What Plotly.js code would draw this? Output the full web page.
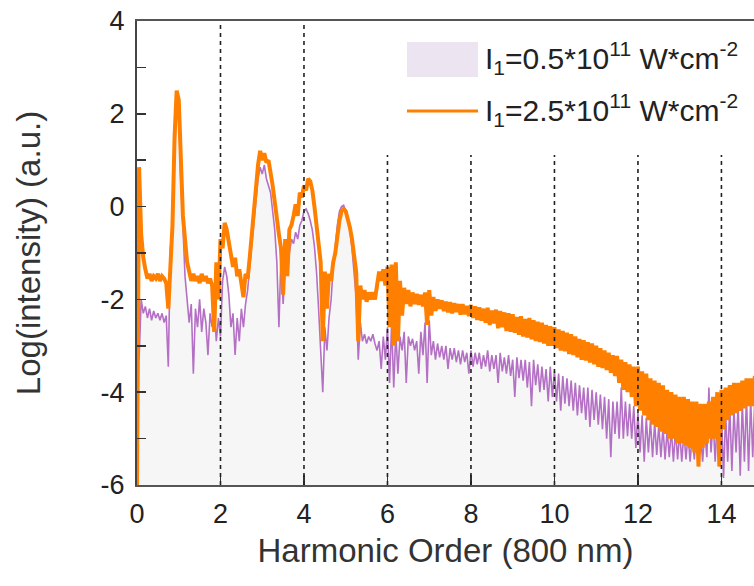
<!DOCTYPE html>
<html>
<head>
<meta charset="utf-8">
<script src="https://cdn.plot.ly/plotly-3.0.1.min.js"></script>
<style>html,body{margin:0;padding:0;background:#fff;}#chart{width:754px;height:586px;}</style>
</head>
<body>
<div id="chart"></div>
<script>
// Sampling of both spectra: harmonic order starts at 0, one sample every 0.05
const xStart = 0;
const xStep = 0.05;

// Log(intensity) for I1 = 2.5e11 W/cm^2 (orange)
const intensityHigh = [
 -6,0.85,-0.6,-1.1,-1.35,-1.55,-1.45,-1.6,-1.5,-1.55,-1.45,-1.6,-1.5,-1.55,-1.65,-2.2,-1.3,-0.4,1.5,2.5,
 2.3,1.0,-0.2,-0.7,-1.2,-1.4,-1.6,-1.45,-1.6,-1.5,-1.65,-1.45,-1.6,-1.5,-1.65,-1.55,-1.7,-2.7,-1.2,-2.0,
 -0.7,-0.9,-0.35,-0.5,-0.75,-1.0,-1.3,-1.1,-1.5,-1.35,-1.6,-1.95,-1.45,-1.55,-1.1,-0.6,-0.1,0.5,0.9,1.2,
 1.0,1.15,0.95,1.0,0.75,0.45,0.1,-0.3,-0.6,-0.9,-1.9,-0.7,-1.5,-0.5,-0.4,-0.2,0.05,-0.2,0.3,0.2,
 0.45,0.35,0.6,0.55,0.35,0.0,-0.4,-0.8,-1.2,-2.9,-1.4,-2.2,-1.45,-1.6,-1.2,-1.0,-0.6,-0.3,-0.1,-0.05,
 -0.1,-0.25,-0.45,-0.7,-1.0,-1.4,-2.9,-1.7,-2.0,-1.8,-2.05,-1.85,-2.0,-1.85,-2.0,-1.7,-1.4,-1.6,-1.35,-1.7,
 -1.3,-2.6,-1.25,-3.0,-1.2,-2.9,-1.6,-2.35,-1.75,-2.1,-1.8,-2.15,-1.85,-2.1,-1.88,-2.12,-1.9,-2.15,-1.85,-2.55,
 -1.8,-2.35,-1.95,-2.25,-2.0,-2.2,-2.02,-2.25,-2.05,-2.28,-2.06,-2.3,-2.08,-2.27,-2.1,-2.33,-2.1,-2.32,-2.14,-2.36,
 -2.12,-2.4,-2.15,-2.44,-2.17,-2.46,-2.2,-2.5,-2.18,-2.55,-2.24,-2.52,-2.22,-2.62,-2.25,-2.6,-2.28,-2.68,-2.3,-2.7,
 -2.32,-2.72,-2.38,-2.76,-2.36,-2.8,-2.42,-2.82,-2.4,-2.86,-2.45,-2.9,-2.48,-2.92,-2.5,-2.95,-2.55,-3.0,-2.58,-3.0,
 -2.6,-3.05,-2.65,-3.1,-2.68,-3.12,-2.72,-3.18,-2.75,-3.2,-2.8,-3.25,-2.85,-3.3,-2.88,-3.32,-2.92,-3.36,-2.95,-3.4,
 -3.0,-3.45,-3.05,-3.48,-3.1,-3.52,-3.15,-3.58,-3.2,-3.65,-3.22,-3.8,-3.3,-3.95,-3.35,-4.0,-3.4,-4.1,-3.45,-4.3,
 -3.45,-4.4,-3.55,-4.5,-3.6,-4.6,-3.7,-4.7,-3.75,-4.75,-3.8,-4.85,-3.85,-4.9,-3.95,-5.0,-4.0,-5.0,-4.05,-5.1,
 -4.1,-5.1,-4.1,-5.15,-4.15,-5.2,-4.2,-5.3,-4.2,-5.6,-4.25,-5.2,-4.25,-5.1,-4.2,-5.0,-4.1,-5.0,-4.0,-5.6,
 -3.95,-4.8,-3.9,-4.6,-3.85,-4.5,-3.8,-4.45,-3.8,-4.4,-3.75,-4.35,-3.7,-4.3,-3.7,-4.3,-3.65
];

// Log(intensity) for I1 = 0.5e11 W/cm^2 (purple)
const intensityLow = [
 -1.6,-3.3,-2.0,-2.3,-2.15,-2.4,-2.2,-2.45,-2.25,-2.4,-2.3,-2.45,-2.3,-2.5,-2.35,-3.45,-0.9,-0.5,1.0,2.35,
 2.1,0.5,-0.4,-1.5,-2.0,-2.5,-2.1,-3.6,-2.2,-2.6,-2.0,-2.7,-2.2,-2.5,-3.2,-2.3,-2.6,-2.2,-2.9,-2.4,
 -2.8,-1.6,-1.3,-1.5,-1.9,-2.6,-2.3,-3.2,-2.4,-2.9,-2.2,-2.6,-2.1,-1.8,-1.3,-0.8,-0.3,0.2,0.6,0.85,
 0.7,0.9,0.6,0.45,0.3,-0.1,-0.5,-1.2,-2.6,-1.0,-2.1,-1.3,-0.9,-1.0,-0.7,-0.8,-0.55,-0.7,-0.4,-0.3,
 -0.1,-0.05,-0.15,-0.3,-0.5,-0.85,-1.4,-2.2,-3.0,-4.0,-2.6,-3.1,-2.4,-2.0,-1.3,-0.8,-0.4,-0.1,0.0,0.03,
 -0.1,-0.3,-0.5,-0.9,-1.4,-1.95,-3.3,-2.5,-2.9,-2.75,-2.95,-2.8,-2.9,-2.75,-2.95,-3.1,-2.9,-3.5,-2.8,-3.3,
 -2.6,-3.8,-2.5,-3.9,-2.7,-3.6,-2.8,-3.1,-2.7,-3.8,-2.8,-3.0,-2.85,-3.1,-2.9,-3.6,-2.7,-3.2,-2.5,-3.8,
 -2.45,-3.2,-2.9,-3.3,-2.95,-3.25,-3.0,-3.3,-3.0,-3.5,-3.05,-3.3,-3.05,-3.35,-3.1,-3.4,-3.1,-3.35,-3.15,-3.6,
 -3.1,-3.45,-3.15,-3.4,-3.15,-3.5,-3.2,-3.45,-3.1,-3.55,-3.2,-3.5,-3.2,-3.8,-3.15,-3.55,-3.25,-3.6,-3.2,-3.65,
 -3.3,-4.1,-3.25,-3.7,-3.3,-3.75,-3.3,-3.9,-3.35,-4.3,-3.3,-3.85,-3.4,-4.0,-3.45,-3.95,-3.5,-4.2,-3.45,-4.1,
 -3.55,-4.2,-3.6,-4.4,-3.65,-4.25,-3.7,-4.3,-3.75,-4.4,-3.8,-4.5,-3.85,-4.45,-3.9,-4.6,-3.9,-4.75,-3.95,-4.6,
 -4.0,-4.7,-4.05,-4.8,-4.1,-5.0,-4.15,-5.4,-4.2,-4.9,-4.2,-5.0,-3.9,-5.0,-4.2,-4.95,-4.25,-5.0,-4.3,-5.2,
 -4.45,-5.3,-4.5,-5.5,-4.55,-5.3,-4.6,-5.4,-4.65,-5.35,-4.7,-5.4,-4.75,-5.45,-4.8,-5.4,-4.8,-5.5,-4.8,-5.45,
 -4.85,-5.5,-4.85,-5.45,-4.9,-5.5,-4.9,-5.45,-4.85,-5.6,-4.9,-5.5,-4.8,-5.4,-3.9,-5.3,-4.6,-5.5,-4.5,-5.6,
 -4.4,-5.85,-4.45,-5.5,-4.3,-5.7,-4.35,-5.3,-4.25,-5.8,-4.2,-5.5,-4.1,-5.7,-4.15,-5.4,-4.1
];

const xRange = [0, 14.78];
const yRange = [-6, 4];
const xTicks = [0, 2, 4, 6, 8, 10, 12, 14];
const xTickText = ['0', '2', '4', '6', '8', '10', '12', '14'];
const yTicks = [-6, -4, -2, 0, 2, 4];
const yTickText = ['-6', '-4', '-2', '0', '2', '4'];
const gridX = [2, 4, 6, 8, 10, 12, 14];
const seriesNames = ['I<sub>1</sub>=0.5*10<sup>11</sup> W*cm<sup>-2</sup>',
                     'I<sub>1</sub>=2.5*10<sup>11</sup> W*cm<sup>-2</sup>'];

const FONT = 'Liberation Sans, Arial, sans-serif';
const ORANGE = '#ff8000';
const PURPLE = '#b470c4';

const traces = [
  { // fill baseline at the bottom of the axis
    x: xRange, y: [yRange[0], yRange[0]], mode: 'lines',
    line: {width: 0, color: 'rgba(0,0,0,0)'}, hoverinfo: 'skip', showlegend: false
  },
  {
    x0: xStart, dx: xStep, y: intensityLow, type: 'scatter', mode: 'lines',
    name: seriesNames[0], fill: 'tonexty', fillcolor: 'rgba(245,245,245,0.9)',
    line: {color: PURPLE, width: 1.6}, showlegend: false
  },
  {
    x0: xStart, dx: xStep, y: intensityHigh, type: 'scatter', mode: 'lines',
    name: seriesNames[1], line: {color: ORANGE, width: 4}, showlegend: false
  }
];

// legend drawn by hand to match the large swatches of the original
const P = (px) => (px - 137) / 617;
const Q = (py) => (485 - py) / 464;

const shapes = [];
gridX.forEach(g => {
  shapes.push({
    type: 'line', xref: 'x', yref: 'paper', x0: g, x1: g, y0: 0,
    y1: g < 5 ? 1 : Q(155), layer: 'above',
    line: {color: '#222', width: 1.6, dash: '4px,4px'}
  });
});
shapes.push({type: 'rect', xref: 'paper', yref: 'paper', x0: P(407), x1: P(478), y0: Q(77), y1: Q(42),
  fillcolor: '#ede4f1', line: {width: 0}, layer: 'above'});
shapes.push({type: 'line', xref: 'paper', yref: 'paper', x0: P(407), x1: P(478), y0: Q(111), y1: Q(111),
  line: {color: ORANGE, width: 3}, layer: 'above'});

const annotations = [
  {xref: 'paper', yref: 'paper', x: P(483), y: Q(58), xanchor: 'left', yanchor: 'middle',
   text: seriesNames[0], showarrow: false, font: {family: FONT, size: 30, color: '#222'}},
  {xref: 'paper', yref: 'paper', x: P(483), y: Q(110), xanchor: 'left', yanchor: 'middle',
   text: seriesNames[1], showarrow: false, font: {family: FONT, size: 30, color: '#222'}}
];

const layout = {
  width: 754, height: 586,
  margin: {l: 137, r: 0, t: 21, b: 101},
  paper_bgcolor: '#fff', plot_bgcolor: '#fff',
  font: {family: FONT, color: '#222'},
  showlegend: false,
  xaxis: {
    range: xRange, tickvals: xTicks, ticktext: xTickText, ticks: 'inside', ticklen: 10, tickwidth: 1.5, tickcolor: '#333',
    showgrid: false, zeroline: false, showline: true, linecolor: '#555', linewidth: 2, mirror: true,
    tickfont: {family: FONT, size: 27, color: '#222'}, ticklabelstandoff: 4, automargin: false,
    title: {text: 'Harmonic Order (800 nm)', font: {family: FONT, size: 33, color: '#333'}, standoff: 10}
  },
  yaxis: {
    range: yRange, tickvals: yTicks, ticktext: yTickText, ticks: 'inside', ticklen: 9, tickwidth: 1.5, tickcolor: '#333',
    minor: {dtick: 1, tick0: 0, ticks: 'inside', ticklen: 9, tickwidth: 1.5, tickcolor: '#333', showgrid: false},
    showgrid: false, zeroline: false, showline: true, linecolor: '#444', linewidth: 2,
    tickfont: {family: FONT, size: 27, color: '#222'}, ticklabelstandoff: 5, automargin: false,
    title: {text: 'Log(intensity) (a.u.)', font: {family: FONT, size: 33, color: '#333'}, standoff: 50}
  },
  shapes: shapes,
  annotations: annotations
};

Plotly.newPlot('chart', traces, layout, {displayModeBar: false, staticPlot: true});
</script>
</body>
</html>
